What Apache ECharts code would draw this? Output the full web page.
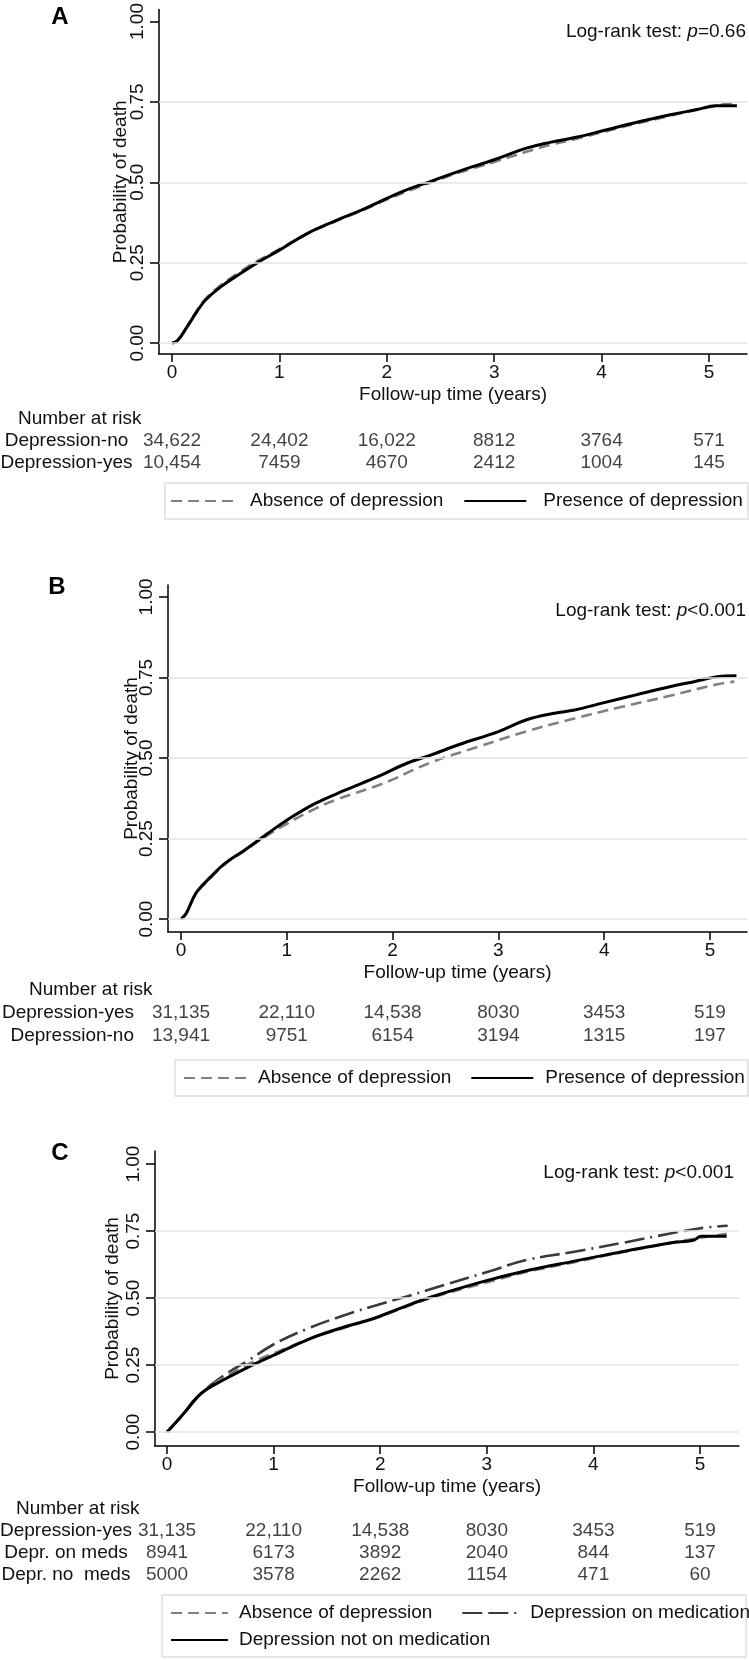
<!DOCTYPE html>
<html><head><meta charset="utf-8">
<script src="https://cdn.jsdelivr.net/npm/echarts@6/dist/echarts.min.js"></script>
<style>html,body{margin:0;padding:0;background:#fff}#c{width:749px;height:1660px}</style>
</head><body><div id="c"></div>
<script>
// ---------- DATA ----------
const xTicks = [0, 1, 2, 3, 4, 5];
const yTicks = [0, 0.25, 0.5, 0.75, 1];
const gridLevels = [0, 0.25, 0.5, 0.75];

const aAbsence = [[0,0],[0.05,0.008],[0.14,0.052],[0.23,0.1],[0.31,0.137],[0.45,0.179],[0.63,0.221],[0.8,0.256],[1.0,0.292],[1.25,0.339],[1.52,0.378],[1.78,0.414],[2.0,0.446],[2.19,0.472],[2.41,0.499],[2.67,0.53],[3.0,0.563],[3.3,0.595],[3.52,0.616],[3.75,0.634],[4.01,0.656],[4.32,0.682],[4.63,0.706],[4.9,0.726],[5.06,0.737],[5.2,0.745],[5.26,0.745]];
const aPresence = [[0,0],[0.05,0.007],[0.14,0.05],[0.23,0.097],[0.31,0.133],[0.45,0.174],[0.63,0.215],[0.8,0.251],[1.0,0.289],[1.25,0.339],[1.52,0.38],[1.78,0.416],[2.0,0.45],[2.19,0.477],[2.41,0.503],[2.67,0.534],[3.0,0.57],[3.3,0.606],[3.52,0.624],[3.75,0.639],[4.01,0.66],[4.32,0.686],[4.63,0.709],[4.9,0.727],[5.06,0.738],[5.26,0.738]];

const bAbsence = [[0,0],[0.05,0.018],[0.14,0.078],[0.28,0.128],[0.415,0.17],[0.6,0.212],[0.82,0.261],[1.0,0.296],[1.27,0.343],[1.46,0.37],[1.91,0.421],[2.36,0.486],[2.81,0.535],[3.26,0.582],[3.72,0.623],[4.17,0.659],[4.62,0.693],[5.07,0.729],[5.23,0.737]];
const bPresence = [[0,0],[0.05,0.018],[0.14,0.08],[0.28,0.131],[0.415,0.173],[0.6,0.214],[0.82,0.266],[1.0,0.307],[1.27,0.359],[1.55,0.40],[1.86,0.442],[2.13,0.483],[2.36,0.509],[2.63,0.542],[3.0,0.582],[3.26,0.618],[3.53,0.639],[3.72,0.649],[4.0,0.672],[4.3,0.696],[4.62,0.721],[4.85,0.737],[5.07,0.752],[5.25,0.755]];

const cAbsence = [[0,0],[0.14,0.062],[0.32,0.145],[0.54,0.205],[0.77,0.255],[1.04,0.3],[1.35,0.35],[1.67,0.39],[1.94,0.425],[2.16,0.455],[2.47,0.5],[2.92,0.55],[3.37,0.597],[3.82,0.634],[4.27,0.671],[4.72,0.706],[5.0,0.725],[5.25,0.74]];
const cOnMeds = [[0,0],[0.14,0.06],[0.32,0.144],[0.54,0.213],[0.77,0.269],[0.99,0.325],[1.3,0.383],[1.67,0.437],[2.02,0.48],[2.25,0.506],[2.47,0.533],[3.01,0.598],[3.37,0.642],[3.82,0.673],[4.27,0.706],[4.72,0.741],[4.99,0.76],[5.26,0.77]];
const cNoMeds = [[0,0],[0.14,0.062],[0.32,0.144],[0.54,0.197],[0.77,0.244],[1.04,0.294],[1.35,0.35],[1.67,0.393],[1.94,0.424],[2.16,0.458],[2.47,0.503],[2.92,0.557],[3.37,0.602],[3.82,0.638],[4.27,0.673],[4.72,0.706],[4.94,0.716],[5.01,0.731],[5.25,0.731]];

const riskRowsA = ['Depression-no', 'Depression-yes'];
const riskA = [[34622,24402,16022,8812,3764,571],[10454,7459,4670,2412,1004,145]];
const riskRowsB = ['Depression-yes', 'Depression-no'];
const riskB = [[31135,22110,14538,8030,3453,519],[13941,9751,6154,3194,1315,197]];
const riskRowsC = ['Depression-yes', 'Depr. on meds', 'Depr. no  meds'];
const riskC = [[31135,22110,14538,8030,3453,519],[8941,6173,3892,2040,844,137],[5000,3578,2262,1154,471,60]];
const pTexts = ['=0.66', '<0.001', '<0.001'];
const panelLetters = ['A', 'B', 'C'];

// ---------- STYLE / LAYOUT ----------
const FONT = '"Liberation Sans", Arial, Helvetica, sans-serif';
const TXT = '#111';
const FS = 19;
const S_ABS = {color:'#808080', width:2.6, type:[11,6]};
const S_PRES = {color:'#000', width:3};
const S_ONMEDS = {color:'#3a3a3a', width:2.6, type:[20,6,20,6,2,6]};

const panels = [
  {grid:{left:159, top:7, width:588, height:347}, x:[-0.121,5.354], y:[-0.034,1.037], yNameGap:29,
   riskRows:riskRowsA, risk:riskA,
   riskTop:430, riskH:44, narY:419, narX:18, rowAlign:'center', rowX:66.5,
   letter:[60,17], pPos:[746,32]},
  {grid:{left:168, top:585, width:579, height:347}, x:[-0.123,5.35], y:[-0.040,1.037], yNameGap:27,
   riskRows:riskRowsB, risk:riskB,
   riskTop:1001, riskH:46, narY:990, narX:29, rowAlign:'right', rowX:134,
   letter:[57,587], pPos:[746,611]},
  {grid:{left:155, top:1151, width:584, height:295}, x:[-0.113,5.366], y:[-0.052,1.049], yNameGap:33,
   riskRows:riskRowsC, risk:riskC,
   riskTop:1520, riskH:66, narY:1509, narX:16, rowAlign:'center', rowX:66,
   letter:[60,1153], pPos:[734,1173]}
];
const curves = [
  [['Absence of depression', aAbsence, S_ABS], ['Presence of depression', aPresence, S_PRES]],
  [['Absence of depression', bAbsence, S_ABS], ['Presence of depression', bPresence, S_PRES]],
  [['Depression on medication', cOnMeds, S_ONMEDS], ['Absence of depression', cAbsence, S_ABS], ['Depression not on medication', cNoMeds, S_PRES]]
];

const fmt = n => n >= 10000 ? n.toLocaleString('en-US') : String(n);

const grid = [], xAxis = [], yAxis = [], series = [], graphic = [];
panels.forEach((p, i) => {
  const gi = grid.length;
  grid.push(p.grid);
  xAxis.push({gridIndex:gi, type:'value', min:p.x[0], max:p.x[1],
    axisLine:{onZero:false, lineStyle:{color:'#000', width:1.5}},
    axisTick:{customValues:xTicks, length:8, lineStyle:{color:'#000', width:1.5}},
    axisLabel:{customValues:xTicks, fontSize:FS, color:TXT, margin:9, fontFamily:FONT},
    splitLine:{show:false},
    name:'Follow-up time (years)', nameLocation:'middle', nameGap:31, nameMoveOverlap:false,
    nameTextStyle:{fontSize:FS, color:TXT, fontFamily:FONT}});
  yAxis.push({gridIndex:gi, type:'value', min:p.y[0], max:p.y[1],
    axisLine:{onZero:false, lineStyle:{color:'#000', width:1.5}},
    axisTick:{customValues:yTicks, length:9, lineStyle:{color:'#000', width:1.5}},
    axisLabel:{customValues:yTicks, rotate:90, margin:12, fontSize:FS, color:TXT, fontFamily:FONT,
      formatter:v => Number(v).toFixed(2)},
    splitLine:{show:false},
    name:'Probability of death', nameLocation:'middle', nameGap:p.yNameGap, nameRotate:90, nameMoveOverlap:false,
    nameTextStyle:{fontSize:FS, color:TXT, fontFamily:FONT}});
  const ai = xAxis.length - 1;
  // gridlines
  series.push({type:'line', xAxisIndex:ai, yAxisIndex:ai, data:[], silent:true, z:1,
    markLine:{silent:true, symbol:['none','none'], label:{show:false}, animation:false,
      lineStyle:{color:'#e4e4e4', width:1.6, type:'solid'},
      data:gridLevels.map(v => ({yAxis:v}))}});
  curves[i].forEach(([name, data, ls]) => {
    series.push({type:'line', name, xAxisIndex:ai, yAxisIndex:ai, data, showSymbol:false, symbol:'none',
      smooth:0.4, z:3, lineStyle:ls, itemStyle:{color:ls.color}});
  });
  // risk table grid
  const rg = grid.length;
  grid.push({left:p.grid.left, width:p.grid.width, top:p.riskTop, height:p.riskH});
  xAxis.push({gridIndex:rg, type:'value', min:p.x[0], max:p.x[1], show:false});
  yAxis.push({gridIndex:rg, type:'category', data:p.riskRows, inverse:true, show:false});
  const ri = xAxis.length - 1;
  const pts = [];
  p.risk.forEach((row, r) => row.forEach((n, k) => pts.push([xTicks[k], r, fmt(n)])));
  series.push({type:'scatter', xAxisIndex:ri, yAxisIndex:ri, data:pts, symbolSize:1, silent:true,
    itemStyle:{color:'rgba(0,0,0,0)'},
    label:{show:true, position:'inside', formatter:q => q.value[2], fontSize:FS, color:TXT, fontFamily:FONT}});
  // texts
  graphic.push({type:'text', x:p.letter[0], y:p.letter[1], style:{text:panelLetters[i], fontSize:24, fontWeight:'bold',
    fontFamily:FONT, fill:'#000', align:'center', verticalAlign:'middle'}});
  graphic.push({type:'text', x:p.pPos[0], y:p.pPos[1], style:{text:'{n|Log-rank test: }{i|p}{n|' + pTexts[i] + '}',
    align:'right', verticalAlign:'middle', fill:TXT,
    rich:{n:{fontSize:FS, fontFamily:FONT, fill:TXT}, i:{fontSize:FS, fontFamily:FONT, fontStyle:'italic', fill:TXT}}}});
  graphic.push({type:'text', x:p.narX, y:p.narY, style:{text:'Number at risk', fontSize:FS, fontFamily:FONT, fill:TXT,
    align:'left', verticalAlign:'middle'}});
  const rowStep = p.riskH / p.riskRows.length;
  p.riskRows.forEach((lab, r) => {
    graphic.push({type:'text', x:p.rowX, y:p.riskTop + rowStep * (r + 0.5), style:{text:lab, fontSize:FS, fontFamily:FONT,
      fill:TXT, align:p.rowAlign, verticalAlign:'middle', whiteSpace:'pre'}});
  });
});

graphic.push({type:'rect', shape:{x:162, y:1595, width:584, height:62}, style:{fill:'none', stroke:'#dedede', lineWidth:1.5}});

const legText = pad => ({fontSize:FS, color:TXT, fontFamily:FONT, lineHeight:20, padding:pad});
const hideSym = {opacity:0, color:'rgba(0,0,0,0)', borderWidth:0};
const legend = [
  {left:165, top:483, data:['Absence of depression','Presence of depression'], itemWidth:62, itemHeight:14, itemGap:20,
   padding:[8,5,8,5], borderColor:'#dedede', borderWidth:1.5, selectedMode:false, itemStyle:hideSym, textStyle:legText([0,0,0,12])},
  {left:175, top:1060, data:['Absence of depression','Presence of depression'], itemWidth:62, itemHeight:14, itemGap:19,
   padding:[8,3,8,8], borderColor:'#dedede', borderWidth:1.5, selectedMode:false, itemStyle:hideSym, textStyle:legText([0,0,0,7])},
  {left:170, top:1603, width:640, data:['Absence of depression','Depression on medication'], itemWidth:57, itemHeight:14, itemGap:29,
   padding:0, selectedMode:false, itemStyle:hideSym, textStyle:legText([0,0,0,6])},
  {left:170, top:1630, data:['Depression not on medication'], itemWidth:57, itemHeight:14,
   padding:0, selectedMode:false, itemStyle:hideSym, textStyle:legText([0,0,0,6])}
];

const chart = echarts.init(document.getElementById('c'), null, {renderer:'canvas'});
chart.setOption({animation:false, backgroundColor:'#fff', textStyle:{fontFamily:FONT},
  grid, xAxis, yAxis, series, legend, graphic});
</script></body></html>
